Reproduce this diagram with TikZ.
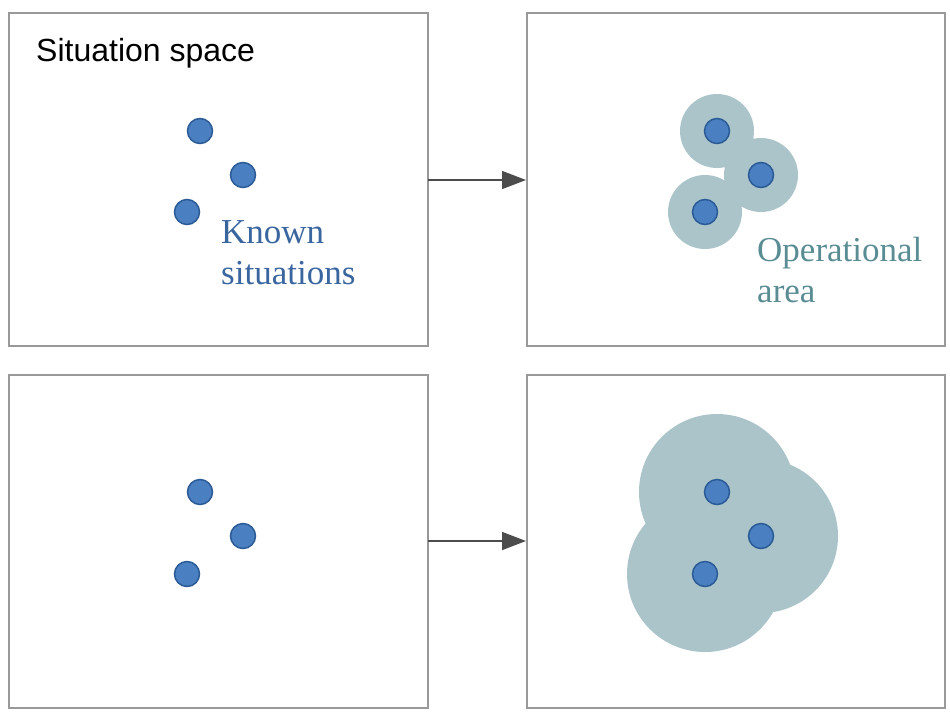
\documentclass[tikz,border=0pt]{standalone}
\usepackage{fontspec}
\setmainfont{Liberation Serif}
\newfontfamily\arialf{Liberation Sans}
\usetikzlibrary{arrows.meta}
\begin{document}
\begin{tikzpicture}[x=1pt,y=-1pt,
  panel/.style={draw=black!40,line width=1.5pt},
  dot/.style={circle,fill=dotblue,draw=dotedge,line width=1.5pt,minimum size=25pt,inner sep=0pt},
  halo/.style={fill=halocol},
  arr/.style={draw=black!70,line width=1.5pt,-{Triangle[length=24pt,width=18pt]}},
  lbl/.style={anchor=base west,inner sep=0pt,font=\fontsize{35}{40}\selectfont}]
\definecolor{dotblue}{HTML}{4A7FC1}
\definecolor{dotedge}{HTML}{2B5B96}
\definecolor{halocol}{HTML}{AAC4C9}
\definecolor{tealtext}{HTML}{5A8C94}
\definecolor{bluetext}{HTML}{3A66A0}
\useasboundingbox (0,0) rectangle (950,718);
\draw[panel] (9,13) rectangle (428,346);
\draw[panel] (527,13) rectangle (945,346);
\draw[panel] (9,375) rectangle (428,708);
\draw[panel] (527,375) rectangle (945,708);
\node[lbl,font=\arialf\fontsize{32}{36}\selectfont] (title) at (36,61) {Situation space};
% top-left
\node[dot] (a1) at (200,131) {};
\node[dot] (a2) at (243,175) {};
\node[dot] (a3) at (187,212) {};
\node[lbl,text=bluetext] (known1) at (221,243) {Known};
\node[lbl,text=bluetext] (known2) at (221,284) {situations};
% top-right
\fill[halo] (717,131) circle (37) (761,175) circle (37) (705,212) circle (37);
\node[dot] (b1) at (717,131) {};
\node[dot] (b2) at (761,175) {};
\node[dot] (b3) at (705,212) {};
\node[lbl,text=tealtext] (oper1) at (757,261) {Operational};
\node[lbl,text=tealtext] (oper2) at (757,302) {area};
% bottom-left
\node[dot] (c1) at (200,492) {};
\node[dot] (c2) at (243,536) {};
\node[dot] (c3) at (187,574) {};
% bottom-right
\fill[halo] (717,492) circle (78) (761,536) circle (77) (705,574) circle (78);
\node[dot] (d1) at (717,492) {};
\node[dot] (d2) at (761,536) {};
\node[dot] (d3) at (705,574) {};
% arrows
\coordinate (s1) at (428,180); \coordinate (e1) at (526,180);
\coordinate (s2) at (428,541); \coordinate (e2) at (526,541);
\draw[arr] (s1) -- (e1);
\draw[arr] (s2) -- (e2);
\end{tikzpicture}
\end{document}
